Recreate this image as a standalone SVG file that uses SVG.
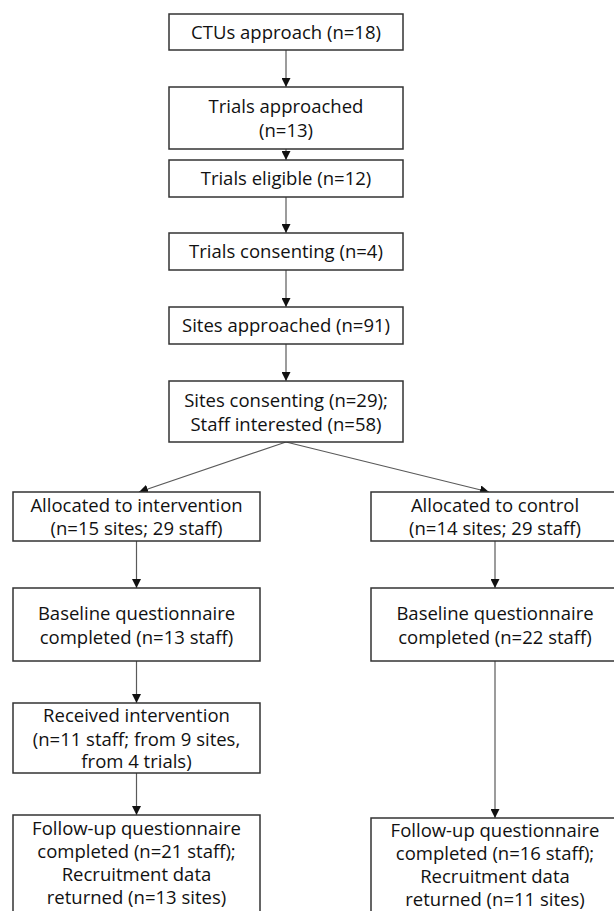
<svg xmlns="http://www.w3.org/2000/svg" width="614" height="911" viewBox="0 0 614 911">
<style>
.box{fill:#fff;stroke:#333;stroke-width:1.5}
.t{font-family:"Open Sans","Noto Sans","Liberation Sans",sans-serif;font-size:18.5px;fill:#111;text-anchor:middle}
.c{fill:none;stroke:#5a5a5a;stroke-width:1.2}
</style>
<defs>
<marker id="ah" markerUnits="userSpaceOnUse" markerWidth="9" markerHeight="9" refX="9" refY="4.5" orient="auto">
<path d="M0,0 L9,4.5 L0,9 z" fill="#111"/>
</marker>
</defs>
<rect width="614" height="911" fill="#fff"/>
<g id="connectors">
<line class="c" x1="286" y1="50" x2="286" y2="87" marker-end="url(#ah)"/>
<line class="c" x1="286" y1="149" x2="286" y2="160" marker-end="url(#ah)"/>
<line class="c" x1="286" y1="197" x2="286" y2="233" marker-end="url(#ah)"/>
<line class="c" x1="286" y1="270" x2="286" y2="307" marker-end="url(#ah)"/>
<line class="c" x1="286" y1="344" x2="286" y2="381" marker-end="url(#ah)"/>
<line class="c" x1="286" y1="442" x2="139" y2="492" marker-end="url(#ah)"/>
<line class="c" x1="286" y1="442" x2="489" y2="492" marker-end="url(#ah)"/>
<line class="c" x1="136.5" y1="541" x2="136.5" y2="588" marker-end="url(#ah)"/>
<line class="c" x1="136.5" y1="661" x2="136.5" y2="703" marker-end="url(#ah)"/>
<line class="c" x1="136.5" y1="773" x2="136.5" y2="815" marker-end="url(#ah)"/>
<line class="c" x1="495" y1="541" x2="495" y2="588" marker-end="url(#ah)"/>
<line class="c" x1="495" y1="661" x2="495" y2="818" marker-end="url(#ah)"/>
</g>
<g id="ctus">
<rect class="box" x="169" y="14" width="234" height="36"/>
<text class="t" x="286" y="38.5">CTUs approach (n=18)</text>
</g>
<g id="trials-approached">
<rect class="box" x="169" y="87" width="234" height="62"/>
<text class="t" x="286" y="113">Trials approached</text>
<text class="t" x="286" y="137">(n=13)</text>
</g>
<g id="trials-eligible">
<rect class="box" x="169" y="160" width="234" height="37"/>
<text class="t" x="286" y="185">Trials eligible (n=12)</text>
</g>
<g id="trials-consenting">
<rect class="box" x="169" y="233" width="234" height="37"/>
<text class="t" x="286" y="258">Trials consenting (n=4)</text>
</g>
<g id="sites-approached">
<rect class="box" x="169" y="307" width="234" height="37"/>
<text class="t" x="286" y="332">Sites approached (n=91)</text>
</g>
<g id="sites-consenting">
<rect class="box" x="169" y="381" width="234" height="61"/>
<text class="t" x="286" y="406.5">Sites consenting (n=29);</text>
<text class="t" x="286" y="431">Staff interested (n=58)</text>
</g>
<g id="alloc-intervention">
<rect class="box" x="13" y="492" width="247" height="49"/>
<text class="t" x="136.5" y="511.5">Allocated to intervention</text>
<text class="t" x="136.5" y="535">(n=15 sites; 29 staff)</text>
</g>
<g id="alloc-control">
<rect class="box" x="371" y="492" width="248" height="49"/>
<text class="t" x="495" y="511.5">Allocated to control</text>
<text class="t" x="495" y="535">(n=14 sites; 29 staff)</text>
</g>
<g id="baseline-intervention">
<rect class="box" x="13" y="588" width="247" height="73"/>
<text class="t" x="136.5" y="619.5">Baseline questionnaire</text>
<text class="t" x="136.5" y="644">completed (n=13 staff)</text>
</g>
<g id="baseline-control">
<rect class="box" x="371" y="588" width="248" height="73"/>
<text class="t" x="495" y="619.5">Baseline questionnaire</text>
<text class="t" x="495" y="644">completed (n=22 staff)</text>
</g>
<g id="received-intervention">
<rect class="box" x="13" y="703" width="247" height="70"/>
<text class="t" x="136.5" y="722">Received intervention</text>
<text class="t" x="136.5" y="745.5">(n=11 staff; from 9 sites,</text>
<text class="t" x="136.5" y="768">from 4 trials)</text>
</g>
<g id="followup-intervention">
<rect class="box" x="13" y="815" width="247" height="110"/>
<text class="t" x="136.5" y="835">Follow-up questionnaire</text>
<text class="t" x="136.5" y="858">completed (n=21 staff);</text>
<text class="t" x="136.5" y="881">Recruitment data</text>
<text class="t" x="136.5" y="904">returned (n=13 sites)</text>
</g>
<g id="followup-control">
<rect class="box" x="371" y="818" width="248" height="110"/>
<text class="t" x="495" y="836.5">Follow-up questionnaire</text>
<text class="t" x="495" y="859.5">completed (n=16 staff);</text>
<text class="t" x="495" y="882.5">Recruitment data</text>
<text class="t" x="495" y="905.5">returned (n=11 sites)</text>
</g>
</svg>
